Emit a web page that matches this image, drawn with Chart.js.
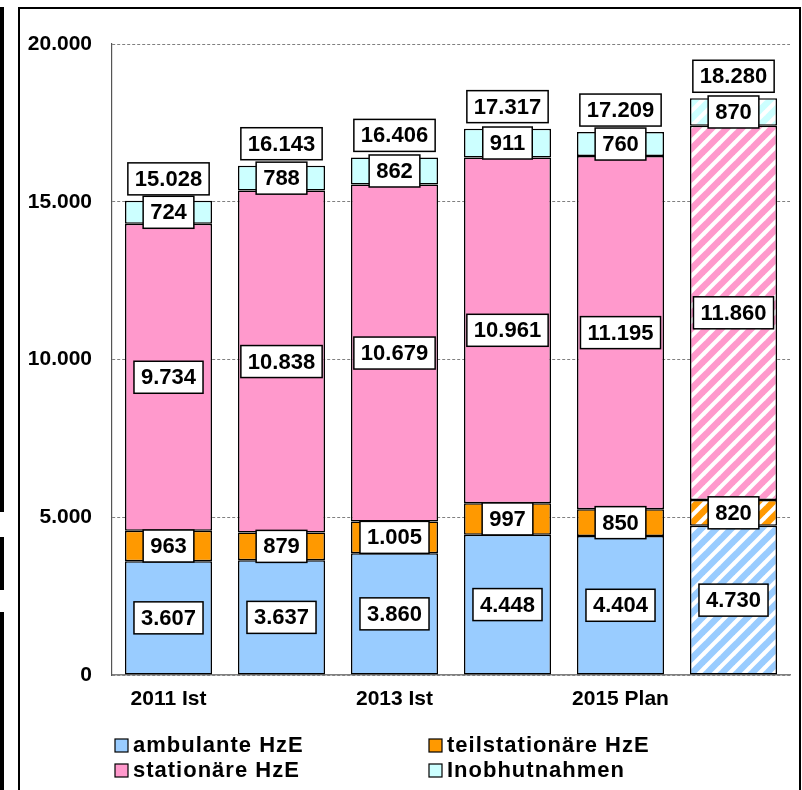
<!DOCTYPE html>
<html>
<head>
<meta charset="utf-8">
<script src="https://cdn.jsdelivr.net/npm/chart.js@4"></script>
<style>
body { margin: 0; background: #fff; }
#wrap { position: relative; width: 802px; height: 790px; overflow: hidden; background: #fff; }
#frame { position: absolute; left: 18px; top: 7px; width: 779px; height: 800px; border: 2px solid #000; }
.strip { position: absolute; left: 0; width: 4px; background: #000; }
canvas { position: absolute; left: 0; top: 0; }
</style>
</head>
<body>
<div id="wrap">
    <div id="frame"></div>
    <div class="strip" style="top:7px;height:505px"></div>
    <div class="strip" style="top:537px;height:53px"></div>
    <div class="strip" style="top:612px;height:178px"></div>
    <canvas id="chart" width="802" height="790"></canvas>
</div>
<script>
// chart data
const categories = ['2011 Ist', '2012 Ist', '2013 Ist', '2014 Ist', '2015 Plan', '2016 Plan'];
const ambulant = [3607, 3637, 3860, 4448, 4404, 4730];
const teilstationaer = [963, 879, 1005, 997, 850, 820];
const stationaer = [9734, 10838, 10679, 10961, 11195, 11860];
const inobhut = [724, 788, 862, 911, 760, 870];
const totals = [15028, 16143, 16406, 17317, 17209, 18280];
const yTicks = [0, 5000, 10000, 15000, 20000];
const hatched = [false, false, false, false, false, true];

const seriesNames = ['ambulante HzE', 'teilstationäre HzE', 'stationäre HzE', 'Inobhutnahmen'];
const seriesColors = ['#99CCFF', '#FF9900', '#FF99CC', '#CCFFFF'];

const FONT = '"Liberation Sans", Arial, sans-serif';

function fmt(v) {
    return String(v).replace(/\B(?=(\d{3})+(?!\d))/g, '.');
}

const canvas = document.getElementById('chart');
const mainCtx = canvas.getContext('2d');

// diagonal stripe pattern for the planned bar
function hatch(color) {
    const s = 15;
    const c = document.createElement('canvas');
    c.width = s;
    c.height = s;
    const g = c.getContext('2d');
    g.fillStyle = '#ffffff';
    g.fillRect(0, 0, s, s);
    g.strokeStyle = color;
    g.lineWidth = 6.5;
    for (let k = -1; k <= 1; k++) {
        g.beginPath();
        g.moveTo(k * s - s, 2 * s);
        g.lineTo(k * s + 2 * s, -s);
        g.stroke();
    }
    return mainCtx.createPattern(c, 'repeat');
}

const patterns = seriesColors.map(hatch);

// white boxed value labels
function drawBox(ctx, text, cx, cy) {
    ctx.font = 'bold 22px ' + FONT;
    const w = ctx.measureText(text).width + 14;
    const h = 32;
    ctx.fillStyle = '#ffffff';
    ctx.fillRect(cx - w / 2, cy - h / 2, w, h);
    ctx.lineWidth = 1.5;
    ctx.strokeStyle = '#000000';
    ctx.strokeRect(cx - w / 2, cy - h / 2, w, h);
    ctx.fillStyle = '#000000';
    ctx.textAlign = 'center';
    ctx.textBaseline = 'middle';
    ctx.fillText(text, cx, cy + 1);
}

const valueLabels = {
    id: 'valueLabels',
    afterDatasetsDraw(chart) {
        const ctx = chart.ctx;
        ctx.save();
        chart.data.datasets.forEach((ds, i) => {
            const meta = chart.getDatasetMeta(i);
            meta.data.forEach((el, j) => {
                drawBox(ctx, fmt(ds.data[j]), el.x, (el.y + el.base) / 2);
            });
        });
        const top = chart.getDatasetMeta(chart.data.datasets.length - 1);
        top.data.forEach((el, j) => {
            drawBox(ctx, fmt(totals[j]), el.x, el.y - 22);
        });
        ctx.restore();
    }
};

// two-column legend at the bottom
const legendBox = {
    id: 'legendBox',
    afterDraw(chart) {
        const ctx = chart.ctx;
        const cols = [115, 429];
        const rows = [752, 777];
        ctx.save();
        ctx.font = 'bold 22px ' + FONT;
        if ('letterSpacing' in ctx) ctx.letterSpacing = '1px';
        ctx.textAlign = 'left';
        ctx.textBaseline = 'alphabetic';
        seriesNames.forEach((name, i) => {
            const x = cols[i % 2];
            const y = rows[Math.floor(i / 2)];
            ctx.fillStyle = seriesColors[i];
            ctx.fillRect(x, y - 13, 13, 13);
            ctx.lineWidth = 1.2;
            ctx.strokeStyle = '#000';
            ctx.strokeRect(x, y - 13, 13, 13);
            ctx.fillStyle = '#000';
            ctx.fillText(name, x + 18, y);
        });
        ctx.restore();
    }
};

const allSeries = [ambulant, teilstationaer, stationaer, inobhut];

new Chart(canvas, {
    type: 'bar',
    data: {
        labels: categories,
        datasets: allSeries.map((values, i) => ({
            label: seriesNames[i],
            data: values,
            backgroundColor: (c) => hatched[c.dataIndex] ? patterns[i] : seriesColors[i],
            borderColor: '#000000',
            borderWidth: 1.5,
            borderSkipped: false,
            barPercentage: 0.77,
            categoryPercentage: 1
        }))
    },
    options: {
        responsive: false,
        animation: false,
        layout: { padding: { left: 0, right: 12, top: 44, bottom: 0 } },
        plugins: {
            legend: { display: false },
            tooltip: { enabled: false }
        },
        scales: {
            x: {
                stacked: true,
                grid: { display: false, drawTicks: false },
                border: { display: true, color: '#808080', width: 1.5 },
                ticks: {
                    autoSkip: false,
                    maxRotation: 0,
                    padding: 12,
                    color: '#000',
                    font: { family: FONT, size: 21, weight: 'bold' },
                    callback: function(value, index) {
                        return index % 2 === 0 ? categories[index] : '';
                    }
                },
                afterFit: function(scale) { scale.height = 115; }
            },
            y: {
                stacked: true,
                min: 0,
                max: 20000,
                afterBuildTicks: function(scale) {
                    scale.ticks = yTicks.map(v => ({ value: v }));
                },
                grid: { color: '#808080', lineWidth: 1, drawTicks: false },
                border: { display: true, color: '#555555', width: 1.2, dash: [3, 2] },
                ticks: {
                    padding: 20,
                    color: '#000',
                    font: { family: FONT, size: 21, weight: 'bold' },
                    callback: function(value) { return fmt(value); }
                },
                afterFit: function(scale) { scale.width = 112; }
            }
        }
    },
    plugins: [valueLabels, legendBox]
});
</script>
</body>
</html>
